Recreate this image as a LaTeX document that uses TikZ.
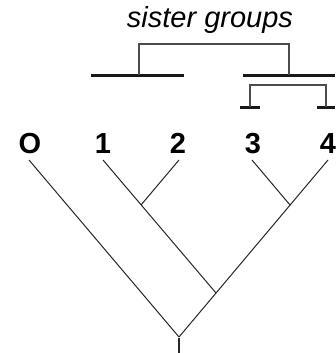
\documentclass[tikz,border=0pt]{standalone}
\usepackage{fontspec}
\setmainfont{Liberation Sans}
\usepackage{tikz}
\usetikzlibrary{positioning}

\begin{document}
\begin{tikzpicture}[
x=1pt, y=-1pt,
taxon/.style={inner sep=0pt, anchor=base, font=\fontsize{29}{34}\selectfont\bfseries},
title/.style={inner sep=0pt, anchor=base, font=\fontsize{29}{34}\selectfont\itshape},
branch/.style={line width=1pt, black!85},
stem/.style={line width=2pt, black!85},
bracket/.style={line width=1.4pt, black!70},
group/.style={line width=3pt, black!90}
]
\useasboundingbox (0,0) rectangle (335,353);

% taxon labels
\node[taxon] (O) at (30,153) {O};
\node[taxon] (one) at (103,153) {1};
\node[taxon] (two) at (178,153) {2};
\node[taxon] (three) at (253,153) {3};
\node[taxon] (four) at (328,153) {4};

% tips and branch points
\coordinate (tO) at (29,160);
\coordinate (t1) at (103,160);
\coordinate (t2) at (179,160);
\coordinate (t3) at (252,160);
\coordinate (t4) at (328,160);
\coordinate (j12) at (141,205);
\coordinate (j34) at (290,205);
\coordinate (j1234) at (216,293);
\coordinate (root) at (179,337);
\coordinate (base) at (179,353);

\draw[branch] (tO) -- (root);
\draw[branch] (t4) -- (root);
\draw[branch] (t1) -- (j1234);
\draw[branch] (t2) -- (j12);
\draw[branch] (t3) -- (j34);
\draw[stem] ([yshift=-1]root) -- (base);

% sister groups
\node[title] (sister) at (210,28) {sister groups};

\coordinate (gA) at (91,75);
\coordinate (gB) at (184,75);
\coordinate (gC) at (243,75);
\coordinate (gD) at (335,75);
\draw[group] (gA) -- (gB);
\draw[group] (gC) -- (gD);
\draw[bracket] (139,75) |- (289,44) -- (289,75);

\coordinate (hA) at (240,107);
\coordinate (hB) at (260,107);
\coordinate (hC) at (317,107);
\coordinate (hD) at (335,107);
\draw[group] (hA) -- (hB);
\draw[group] (hC) -- (hD);
\draw[bracket] (250,107) |- (326,85) -- (326,107);
\end{tikzpicture}
\end{document}
